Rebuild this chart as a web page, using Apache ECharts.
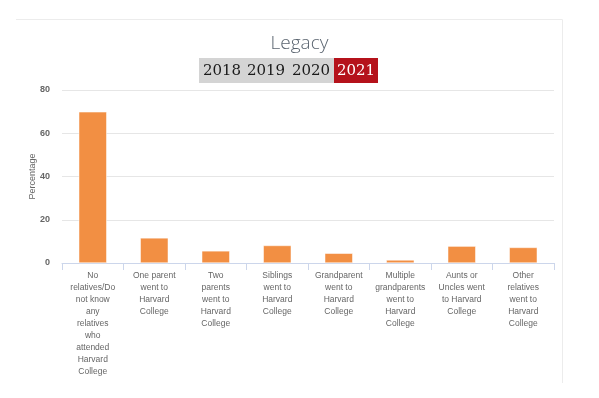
<!DOCTYPE html>
<html>
<head>
    <meta charset="utf-8">
    <title>Legacy</title>
    <script src="https://cdn.jsdelivr.net/npm/echarts@6/dist/echarts.min.js"></script>
    <style>
        html, body { margin: 0; padding: 0; background: #fff; }
        #main { width: 599px; height: 398px; }
    </style>
</head>
<body>
<div id="main"></div>
<script>
    // categories (with the line breaks used on the axis)
    var categories = [
        'No\nrelatives/Do\nnot know\nany\nrelatives\nwho\nattended\nHarvard\nCollege',
        'One parent\nwent to\nHarvard\nCollege',
        'Two\nparents\nwent to\nHarvard\nCollege',
        'Siblings\nwent to\nHarvard\nCollege',
        'Grandparent\nwent to\nHarvard\nCollege',
        'Multiple\ngrandparents\nwent to\nHarvard\nCollege',
        'Aunts or\nUncles went\nto Harvard\nCollege',
        'Other\nrelatives\nwent to\nHarvard\nCollege'
    ];
    var percentages = [69.9, 11.6, 5.6, 8.1, 4.5, 1.4, 7.8, 7.2];
    var years = ['2018', '2019', '2020', '2021'];
    var yearX = [222, 266, 311, 356];

    var myChart = echarts.init(document.getElementById('main'));

    var graphics = [
        // faint container border (top + right)
        { type: 'line', shape: { x1: 16, y1: 19.5, x2: 562.5, y2: 19.5 }, style: { stroke: '#ececec', lineWidth: 1 } },
        { type: 'line', shape: { x1: 562.5, y1: 19.5, x2: 562.5, y2: 383 }, style: { stroke: '#ececec', lineWidth: 1 } },
        // year switcher
        { type: 'rect', shape: { x: 199, y: 58, width: 135, height: 25 }, style: { fill: '#d4d4d4' } },
        { type: 'rect', shape: { x: 334, y: 58, width: 44, height: 25 }, style: { fill: '#b5121b' } }
    ];
    years.forEach(function (y, i) {
        graphics.push({
            type: 'text',
            x: yearX[i], y: 71,
            style: {
                text: y,
                fill: i === 3 ? '#ffffff' : '#1a1a1a',
                font: '15px "DejaVu Serif", serif',
                textAlign: 'center',
                textVerticalAlign: 'middle'
            }
        });
    });

    var option = {
        animation: false,
        title: {
            text: 'Legacy',
            left: 'center',
            top: 29,
            textStyle: {
                color: '#5b6570',
                fontFamily: '"Open Sans", sans-serif',
                fontWeight: 300,
                fontSize: 19
            }
        },
        graphic: graphics,
        grid: {
            left: 62,
            right: 45,
            top: 90,
            bottom: 135
        },
        xAxis: {
            type: 'category',
            data: categories,
            axisLine: { lineStyle: { color: '#ccd6eb' } },
            axisTick: { show: true, length: 7, lineStyle: { color: '#ccd6eb' } },
            axisLabel: {
                interval: 0,
                color: '#666666',
                fontFamily: '"Liberation Sans", Arial, sans-serif',
                fontSize: 8.5,
                lineHeight: 12,
                margin: 7
            }
        },
        yAxis: {
            type: 'value',
            min: 0,
            max: 80,
            interval: 20,
            name: 'Percentage',
            nameLocation: 'middle',
            nameGap: 25,
            nameMoveOverlap: false,
            nameTextStyle: {
                color: '#666666',
                fontFamily: '"Liberation Sans", Arial, sans-serif',
                fontSize: 9
            },
            axisLine: { show: false },
            axisTick: { show: false },
            axisLabel: {
                color: '#666666',
                fontFamily: '"Liberation Sans", Arial, sans-serif',
                fontSize: 9,
                fontWeight: 'bold',
                margin: 12
            },
            splitLine: { lineStyle: { color: '#e6e6e6' } }
        },
        series: [{
            type: 'bar',
            data: percentages,
            barWidth: 28,
            itemStyle: { color: '#f28f43', borderColor: '#ffffff', borderWidth: 0.5 }
        }]
    };
    myChart.setOption(option);
</script>
</body>
</html>
